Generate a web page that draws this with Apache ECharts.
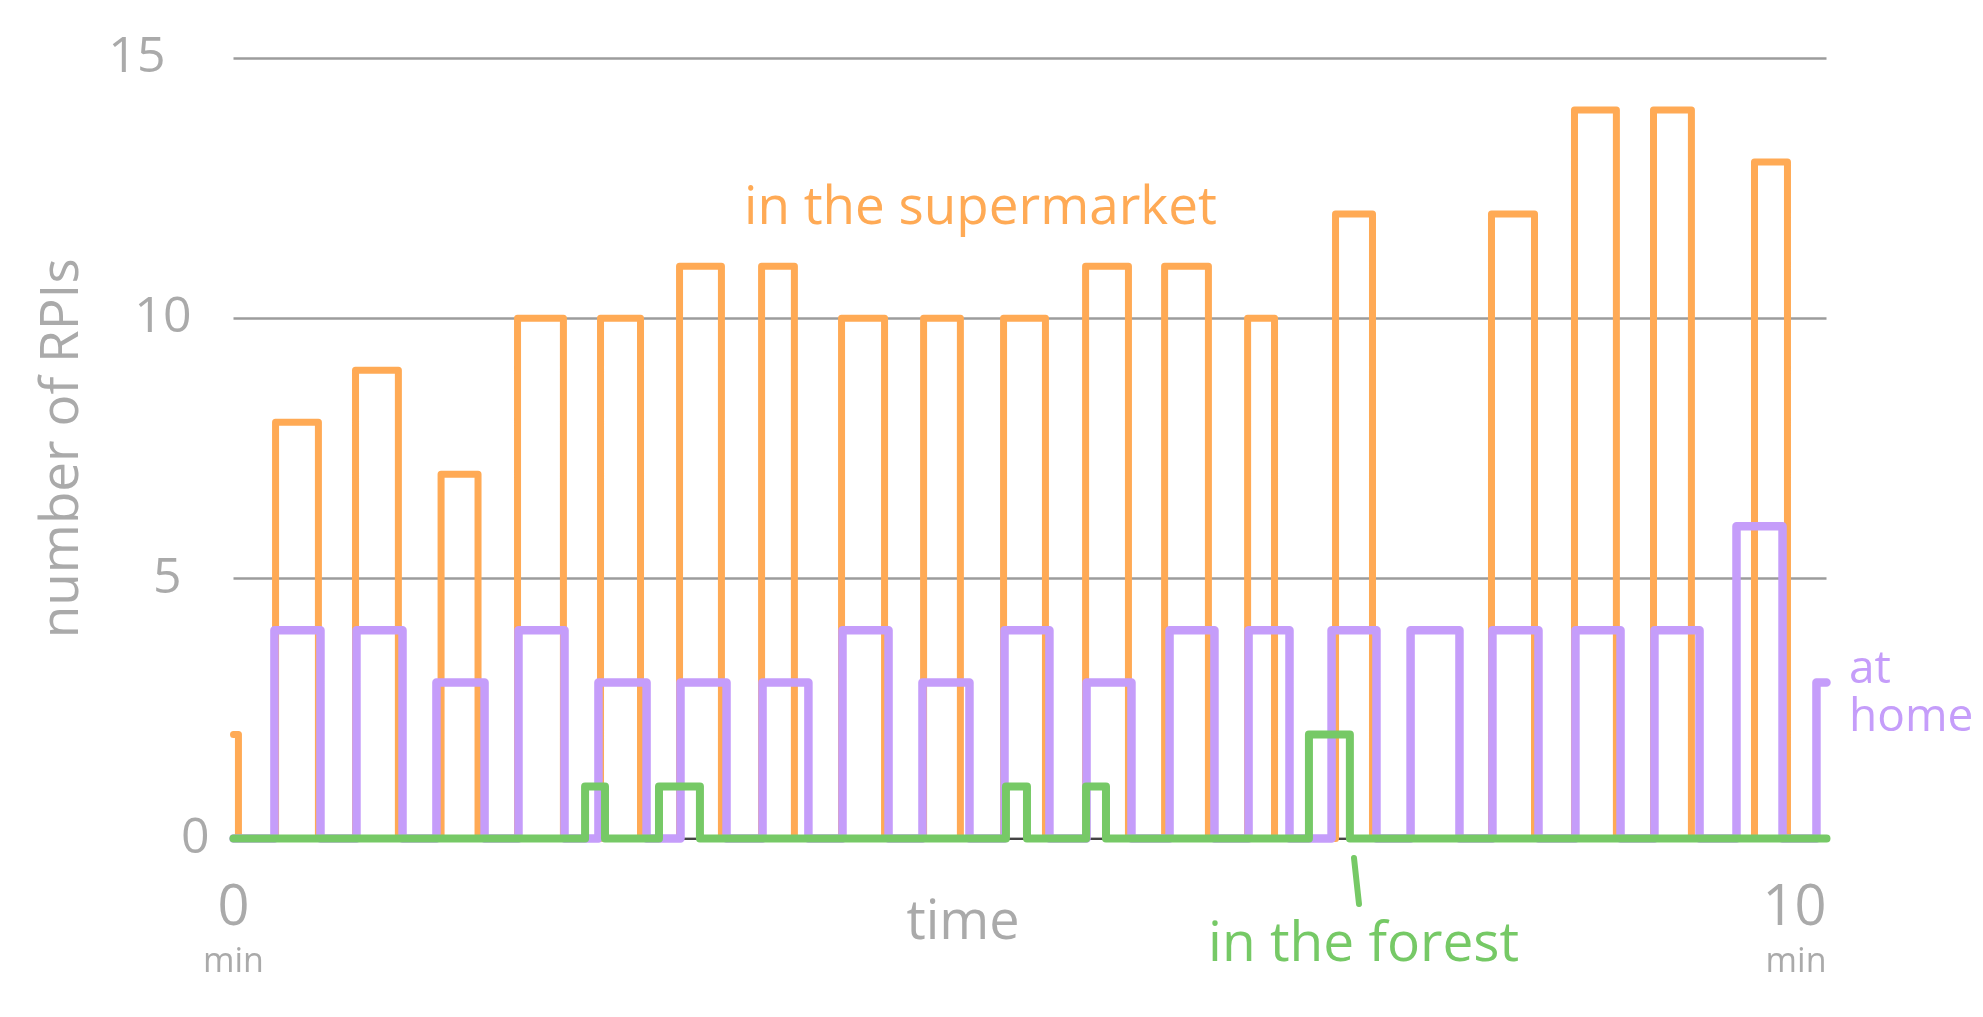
<!DOCTYPE html>
<html>
<head>
<meta charset="utf-8">
<script src="https://cdn.jsdelivr.net/npm/echarts@6/dist/echarts.min.js"></script>
<style>
  html, body { margin: 0; padding: 0; background: #ffffff; }
  #chart { width: 1983px; height: 1017px; }
</style>
</head>
<body>
<div id="chart"></div>
<script>
// ---- data (time in minutes, value = number of RPIs) ----
const yTicks = [0, 5, 10, 15];
const xTickLabels = ['0', '10'];

const supermarketStart = [0, 0.264, 0.766, 1.303, 1.783, 2.304, 2.800, 3.315, 3.817, 4.332, 4.834, 5.349, 5.845, 6.366, 6.918, 7.897, 8.418, 8.914, 9.548];
const supermarketEnd   = [0.031, 0.533, 1.035, 1.535, 2.071, 2.555, 3.063, 3.521, 4.087, 4.563, 5.097, 5.618, 6.120, 6.535, 7.150, 8.167, 8.681, 9.152, 9.755];
const supermarketCount = [2, 8, 9, 7, 10, 10, 11, 11, 10, 10, 10, 11, 11, 10, 12, 12, 14, 14, 13];

const homeStart = [0.257, 0.772, 1.274, 1.789, 2.291, 2.806, 3.321, 3.823, 4.325, 4.840, 5.355, 5.876, 6.372, 6.893, 7.389, 7.903, 8.424, 8.920, 9.435, 9.937];
const homeEnd   = [0.546, 1.061, 1.576, 2.078, 2.593, 3.095, 3.609, 4.112, 4.620, 5.122, 5.637, 6.158, 6.629, 7.175, 7.696, 8.192, 8.707, 9.203, 9.724, 10];
const homeCount = [4, 4, 3, 4, 3, 3, 3, 4, 3, 4, 3, 4, 4, 4, 4, 4, 4, 4, 6, 3];

const forestStart = [2.207, 2.671, 4.849, 5.352, 6.751];
const forestEnd   = [2.332, 2.928, 4.981, 5.477, 7.008];
const forestCount = [1, 1, 1, 1, 2];

const T_MIN = 0, T_MAX = 10;

// build step-pulse polylines from the arrays
function pulses(starts, ends, counts) {
  const pts = [];
  if (starts[0] > T_MIN) pts.push([T_MIN, 0]);
  for (let i = 0; i < starts.length; i++) {
    if (starts[i] > T_MIN) pts.push([starts[i], 0]);
    pts.push([starts[i], counts[i]]);
    pts.push([ends[i], counts[i]]);
    if (ends[i] < T_MAX) pts.push([ends[i], 0]);
  }
  const last = ends[ends.length - 1];
  if (last < T_MAX) pts.push([T_MAX, 0]);
  return pts;
}

const GRAY = '#aaaaaa';
const FONT = 'Open Sans';

const chart = echarts.init(document.getElementById('chart'), null, { renderer: 'canvas' });

const yLabelPad = { 0: 0, 5: 28, 10: 18, 15: 44 };

const lineCommon = {
  type: 'line',
  showSymbol: false,
  symbol: 'none',
  smooth: false,
  animation: false,
  clip: false
};

chart.setOption({
  backgroundColor: '#ffffff',
  animation: false,
  grid: { left: 233.5, right: 156.5, top: 58, bottom: 178.5, containLabel: false, outerBoundsMode: 'none' },
  xAxis: {
    type: 'value',
    min: T_MIN,
    max: T_MAX,
    interval: 10,
    name: 'time',
    nameLocation: 'middle',
    nameGap: 58,
    nameMoveOverlap: false,
    nameTextStyle: { color: GRAY, fontSize: 54, fontFamily: FONT, padding: [0, 134, 0, 0] },
    axisLine: { show: true, lineStyle: { color: '#444444', width: 2 } },
    axisTick: { show: false },
    splitLine: { show: false },
    axisLabel: {
      margin: 40,
      alignMaxLabel: 'right',
      formatter: function (v) {
        const i = v === T_MIN ? 0 : 1;
        return '{v|' + xTickLabels[i] + '}\n{u|min}';
      },
      rich: {
        v: { fontSize: 56, color: GRAY, fontFamily: FONT, lineHeight: 62 },
        u: { fontSize: 34, color: GRAY, fontFamily: FONT, lineHeight: 44 }
      }
    }
  },
  yAxis: {
    type: 'value',
    min: 0,
    max: 15,
    interval: 5,
    name: 'number of RPIs',
    nameLocation: 'middle',
    nameGap: 144,
    nameRotate: 90,
    nameMoveOverlap: false,
    nameTextStyle: { color: GRAY, fontSize: 53, fontFamily: FONT },
    axisLine: { show: false },
    axisTick: { show: false },
    splitLine: { show: true, lineStyle: { color: '#9c9c9c', width: 2.5 } },
    axisLabel: {
      margin: 24,
      formatter: function (v) {
        return '{p' + v + '|' + v + '}';
      },
      rich: (function () {
        const r = {};
        yTicks.forEach(function (t) {
          r['p' + t] = { fontSize: 50, color: GRAY, fontFamily: FONT, padding: [0, yLabelPad[t], 0, 0] };
        });
        return r;
      })()
    }
  },
  series: [
    Object.assign({}, lineCommon, {
      name: 'in the supermarket',
      data: pulses(supermarketStart, supermarketEnd, supermarketCount),
      lineStyle: { color: '#ffaa55', width: 7, cap: 'round', join: 'round' },
      z: 2
    }),
    Object.assign({}, lineCommon, {
      name: 'at home',
      data: pulses(homeStart, homeEnd, homeCount),
      lineStyle: { color: '#c59dfa', width: 8.5, cap: 'round', join: 'round' },
      z: 3
    }),
    Object.assign({}, lineCommon, {
      name: 'in the forest',
      data: pulses(forestStart, forestEnd, forestCount),
      lineStyle: { color: '#76c966', width: 8, cap: 'round', join: 'round' },
      z: 4
    })
  ],
  graphic: [
    {
      type: 'text',
      left: 744, top: 182,
      style: { text: 'in the supermarket', fill: '#ffaa55', font: '53px "Open Sans"' }
    },
    {
      type: 'text',
      left: 1849, top: 646,
      style: { text: 'at\nhome', fill: '#c59dfa', font: '46px "Open Sans"', lineHeight: 48 }
    },
    {
      type: 'text',
      left: 1208, top: 918,
      style: { text: 'in the forest', fill: '#76c966', font: '55px "Open Sans"' }
    },
    {
      type: 'line',
      shape: { x1: 1354, y1: 858, x2: 1359, y2: 904 },
      style: { stroke: '#76c966', lineWidth: 6, lineCap: 'round' }
    }
  ]
});
</script>
</body>
</html>
